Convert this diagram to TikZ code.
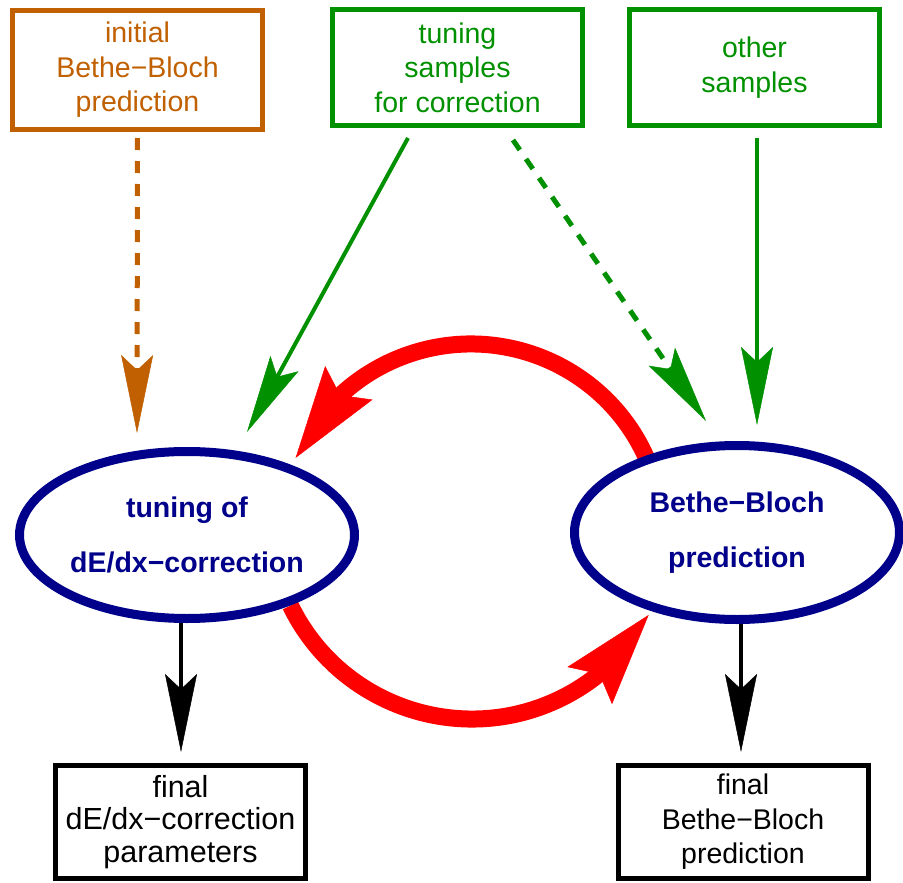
\documentclass[tikz,border=0pt]{standalone}
\usepackage{fontspec}
\setmainfont{Liberation Sans}
\usetikzlibrary{arrows.meta,bending,shapes.geometric}
\definecolor{borange}{RGB}{192,96,0}
\definecolor{bgreen}{RGB}{0,144,0}
\definecolor{bnavy}{RGB}{0,0,139}
\definecolor{bred}{RGB}{255,0,0}
\pgfdeclarelayer{background}
\pgfsetlayers{background,main}
\begin{document}
\begin{tikzpicture}[x=1pt,y=-1pt,
  box/.style={draw, line width=5pt, minimum width=250pt, inner sep=0pt, align=center,
    font=\fontsize{28.5}{34.5}\selectfont},
  ell/.style={ellipse, draw=bnavy, line width=9pt, fill=white, inner sep=0pt, align=center,
    text=bnavy, font=\fontsize{28.5}{55}\selectfont\bfseries},
  slim/.style={line width=4.5pt, -{Stealth[length=78pt,width=32pt,inset=15pt,line width=0.5pt]}},
  dashy/.style={dash pattern=on 12pt off 11pt},
  redarrow/.style={draw=bred, line width=17pt,
    -{Stealth[length=92pt,width=58pt,inset=15pt,line width=0.5pt,flex]}}
]
\useasboundingbox (0,0) rectangle (903,883);

% boxes
\node[box, draw=borange, text=borange, minimum height=119pt] (init) at (137.5,70) {initial\\Bethe−Bloch\\prediction};
\node[box, draw=bgreen, text=bgreen, minimum height=116pt] (tune) at (457.5,67.5) {tuning\\samples\\for correction};
\node[box, draw=bgreen, text=bgreen, minimum height=116pt] (other) at (754.5,67.5) {other\\samples};
\node[box, draw=black, minimum height=113pt, font=\fontsize{30.5}{32.5}\selectfont] (fcorr) at (180.5,822) {final\\dE/dx−correction\\parameters};
\node[box, draw=black, minimum height=113pt] (fbb) at (743,822) {final\\Bethe−Bloch\\prediction};

% ellipses
\node[ell, minimum width=335pt, minimum height=167pt] (tuning) at (187,535) {tuning of\\dE/dx−correction};
\node[ell, minimum width=325pt, minimum height=174pt] (bb) at (737,532.5) {Bethe−Bloch\\prediction};

% tip points
\coordinate (t1) at (137,433);
\coordinate (t2) at (247,432);
\coordinate (t3) at (706,421);
\coordinate (t4) at (757,425);
\coordinate (t5) at (181,752);
\coordinate (t6) at (741,752);
\coordinate (ctop) at (471,536);
\coordinate (cbot) at (472,517);

\begin{pgfonlayer}{background}
\draw[slim, borange, line width=5pt, dashy] ([yshift=-6pt]init.south) -- (t1);
\draw[slim, bgreen, line width=4pt] ([xshift=-49.5pt,yshift=-10pt]tune.south) -- (t2);
\draw[slim, bgreen, line width=5pt, dashy] ([xshift=55.5pt,yshift=-12pt]tune.south) -- (t3);
\draw[slim, bgreen, line width=4pt] ([xshift=2.5pt,yshift=-10pt]other.south) -- (t4);
\draw[slim, black] (tuning.south -| t5) -- (t5);
\draw[slim, black] (bb.south -| t6) -- (t6);
\draw[redarrow] (ctop) ++(-20:192) arc[start angle=-20, end angle=-156, radius=192];
\draw[redarrow] (cbot) ++(154:202) arc[start angle=154, end angle=29, radius=202];
\end{pgfonlayer}
\end{tikzpicture}
\end{document}
